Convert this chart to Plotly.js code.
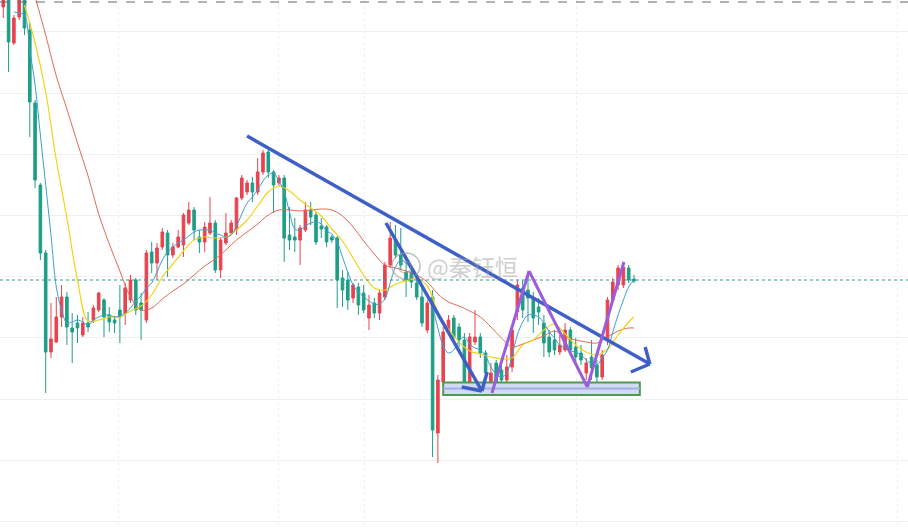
<!DOCTYPE html>
<html><head><meta charset="utf-8">
<script src="https://cdn.plot.ly/plotly-3.0.1.min.js"></script>
<style>html,body{margin:0;padding:0;background:#fff;}#chart{width:908px;height:528px;}</style>
</head><body><div id="chart"></div>
<script>
// Candle data (price units, unlabeled axis)
const openP  = [521,531,485,511,530,498,425,343,275,176,186,211,231,200,205,193,205,208,218,228,213,208,218,215,228,248,225,208,276,265,281,295,273,281,283,305,318,291,286,295,305,258,285,295,298,330,336,345,336,356,376,356,345,350,293,291,288,298,318,313,302,301,291,290,250,248,230,241,235,210,225,215,231,263,288,273,256,256,245,231,198,231,95,146,196,210,201,188,146,186,191,175,146,165,158,148,161,216,240,238,230,221,205,191,188,176,178,198,181,175,155,171,163,151,188,228,243,243,260,249];
const highP  = [538,536,513,533,533,506,428,345,278,225,231,243,236,215,213,211,216,223,236,230,221,212,243,245,253,250,235,278,286,285,300,298,285,298,315,326,321,298,306,331,308,291,315,308,331,353,348,351,370,378,380,358,353,353,321,310,303,326,326,316,310,303,293,292,258,256,245,245,243,233,230,238,266,306,303,300,266,260,253,243,228,238,153,201,213,213,205,195,195,218,195,178,165,168,163,173,203,248,248,253,236,230,213,198,198,193,205,201,190,183,170,188,168,178,231,250,263,266,263,253];
const lowP   = [510,456,483,508,493,391,340,268,135,170,185,201,183,165,185,191,196,205,216,191,196,195,185,203,225,213,188,205,255,248,278,251,270,280,271,303,288,275,276,293,255,250,283,293,293,328,333,326,333,353,350,315,342,266,278,276,263,296,303,283,290,281,285,220,221,218,225,213,215,198,210,208,228,260,270,258,231,240,228,201,195,71,65,143,193,186,181,143,143,183,170,145,143,143,136,143,156,208,210,206,195,203,171,171,173,173,176,173,166,163,148,148,145,148,183,225,238,240,245,245];
const closeP = [531,486,510,530,500,426,348,275,176,189,211,231,201,196,200,205,201,220,235,211,206,205,211,240,248,218,218,275,265,280,296,273,281,291,313,318,298,286,301,305,258,288,295,305,330,350,345,336,356,375,356,343,350,290,288,288,300,318,311,286,299,286,288,248,238,228,243,223,218,223,215,235,263,290,273,263,248,246,231,205,225,98,148,196,208,191,188,146,191,191,175,155,155,146,148,161,198,243,218,230,210,216,185,176,178,183,198,178,171,168,165,160,151,173,228,246,260,261,248,247];

// Moving-average lines
const maFastIdx = [2,3,4,5,6,7,8,9,10,11,12,13,14,15,16,17,18,19,20,21,22,23,24,25,26,27,28,29,30,31,32,33,34,35,36,37,38,39,40,41,42,43,44,45,46,47,48,49,50,51,52,53,54,55,56,57,58,59,60,61,62,63,64,65,66,67,68,69,70,71,72,73,74,75,76,77,78,79,80,81,82,83,84,85,86,87,88,89,90,91,92,93,94,95,96,97,98,99,100,101,102,103,104,105,106,107,108,109,110,111,112,113,114,115,116,117,118,119];
const maFast = [516,515,513,478,443,393,343,293,241,218,205,206,208,206,203,208,211,213,213,211,212,215,220,227,232,240,245,256,268,276,281,285,288,292,296,298,298,298,295,293,291,293,302,314,325,331,338,347,353,355,347,336,316,299,298,302,305,306,304,297,294,286,271,256,243,236,231,227,224,224,229,245,261,268,265,258,253,243,233,220,200,182,175,178,187,191,184,180,178,172,161,154,151,155,173,193,206,213,213,211,205,196,190,183,180,177,176,173,168,164,163,170,178,196,213,228,241,248];
const maMidIdx = [4,6,8,10,12,14,16,18,20,22,24,26,28,30,32,34,36,38,40,42,44,46,48,50,52,54,56,58,60,62,64,66,68,70,72,74,76,78,80,82,84,86,88,90,92,94,96,98,100,102,104,106,108,110,112,114,116,118,119];
const maMid = [523,485,436,368,310,248,207,208,211,211,217,222,233,251,264,277,288,291,290,291,298,308,322,336,342,337,328,320,312,299,287,270,253,240,238,244,247,249,242,216,199,186,177,174,171,169,170,183,188,198,204,194,183,176,173,179,193,206,211];
const maSlowIdx = [6,8,10,12,14,16,18,20,22,24,26,28,30,32,34,36,38,40,42,44,46,48,50,52,54,56,58,60,62,64,66,68,70,72,74,76,78,80,82,84,86,88,90,92,94,96,98,100,102,104,106,108,110,112,114,116,118,119];
const maSlow = [531,493,452,419,385,352,314,284,257,231,218,220,229,237,244,253,262,269,278,288,296,304,313,318,318,317,318,319,318,312,301,287,274,263,260,257,253,246,234,226,222,217,211,201,190,181,184,188,192,197,191,188,186,185,191,197,200,200];

// Hand-drawn annotations (x in candle index, y in price)
const trendX = [46.0, 122.0];
const trendY = [392, 164];
const trendArrowX = [121.1, 122.0, 118.4];
const trendArrowY = [181, 164, 156];
const dropX = [72.2, 90.3];
const dropY = [305, 137];
const dropArrowX = [86.5, 90.3, 91.3];
const dropArrowY = [141, 137, 156];
const zigX = [92.2, 99.2, 110.2, 117.1];
const zigY = [135, 257, 141, 266];
const boxX = [83.0, 120.1];
const boxY = [133, 145.5];
const boxMid = 139.5;
const lastPrice = 248;
const topLine = 526;
const vGrid = [21.8, 52.0, 68.1, 108.1, 168.8];

const n = closeP.length;
const idx = Array.from({length: n}, (_, i) => i);

const traces = [
  {type:'candlestick', x: idx, open: openP, high: highP, low: lowP, close: closeP,
   increasing:{line:{color:'#e8434f', width:1}, fillcolor:'#e8434f'},
   decreasing:{line:{color:'#1f9e86', width:1}, fillcolor:'#1f9e86'},
   whiskerwidth:0, hoverinfo:'skip', showlegend:false},
  {type:'scatter', mode:'lines', x: maSlowIdx, y: maSlow, line:{color:'#e06a55', width:1, shape:'spline'}, hoverinfo:'skip', showlegend:false},
  {type:'scatter', mode:'lines', x: maMidIdx, y: maMid, line:{color:'#f2d21a', width:1.2, shape:'spline'}, hoverinfo:'skip', showlegend:false},
  {type:'scatter', mode:'lines', x: maFastIdx, y: maFast, line:{color:'#3c9fd4', width:1, shape:'spline'}, hoverinfo:'skip', showlegend:false}
];

function seg(xs, ys, color, w) {
  const out = [];
  for (let k = 0; k < xs.length - 1; k++) {
    out.push({type:'line', xref:'x', yref:'y', x0: xs[k], y0: ys[k], x1: xs[k+1], y1: ys[k+1],
              line:{color: color, width: w}, layer:'above'});
  }
  return out;
}

const blue = '#3d5fc6';
const shapes = [
  {type:'line', xref:'paper', yref:'y', x0:0, x1:1, y0:topLine, y1:topLine, line:{color:'#666', width:1, dash:'dash'}},
  {type:'line', xref:'paper', yref:'y', x0:0, x1:1, y0:lastPrice, y1:lastPrice, line:{color:'#2a9d8f', width:1, dash:'dot'}},
  {type:'rect', xref:'x', yref:'y', x0: boxX[0], x1: boxX[1], y0: boxY[0], y1: boxY[1], fillcolor:'#d3daf4', line:{color:'#4c9c4c', width:2}, layer:'above'},
  {type:'line', xref:'x', yref:'y', x0: boxX[0], x1: boxX[1], y0: boxMid, y1: boxMid, line:{color:'#9fb0e6', width:2}, layer:'above'},
  ...seg(trendX, trendY, blue, 3.5),
  ...seg(trendArrowX, trendArrowY, blue, 3.5),
  ...seg(dropX, dropY, blue, 3.5),
  ...seg(dropArrowX, dropArrowY, blue, 3.5),
  ...seg(zigX, zigY, '#9b5ddc', 3),
  {type:'circle', xref:'paper', yref:'paper', x0:392/908, x1:420/908, y0:(528-279)/528, y1:(528-253)/528, line:{color:'rgba(150,150,150,0.6)', width:1.5}, layer:'above'},
  {type:'circle', xref:'paper', yref:'paper', x0:399/908, x1:411/908, y0:(528-273)/528, y1:(528-261)/528, line:{color:'rgba(150,150,150,0.55)', width:1.2}, layer:'above'}
];

const layout = {
  width:908, height:528,
  margin:{l:0, r:0, t:0, b:0},
  paper_bgcolor:'#ffffff', plot_bgcolor:'#ffffff',
  showlegend:false,
  xaxis:{range:[-0.62, 170.7], rangeslider:{visible:false}, tickmode:'array', tickvals: vGrid,
         showticklabels:false, showgrid:true, gridcolor:'#efefef', griddash:'dot', zeroline:false, showline:false, ticks:''},
  yaxis:{range:[0, 528], tick0:6.5, dtick:61.2, showticklabels:false, showgrid:true, gridcolor:'#f0f0f0',
         zeroline:false, showline:false, ticks:''},
  shapes: shapes,
  annotations:[
    {xref:'paper', yref:'paper', x:472/908, y:(528-266)/528, text:'@秦钰恒', showarrow:false,
     font:{family:'Noto Sans CJK SC, sans-serif', size:23, color:'rgba(165,165,165,0.55)'}}
  ]
};

Plotly.newPlot('chart', traces, layout, {staticPlot:true, displayModeBar:false});
</script>
</body></html>
